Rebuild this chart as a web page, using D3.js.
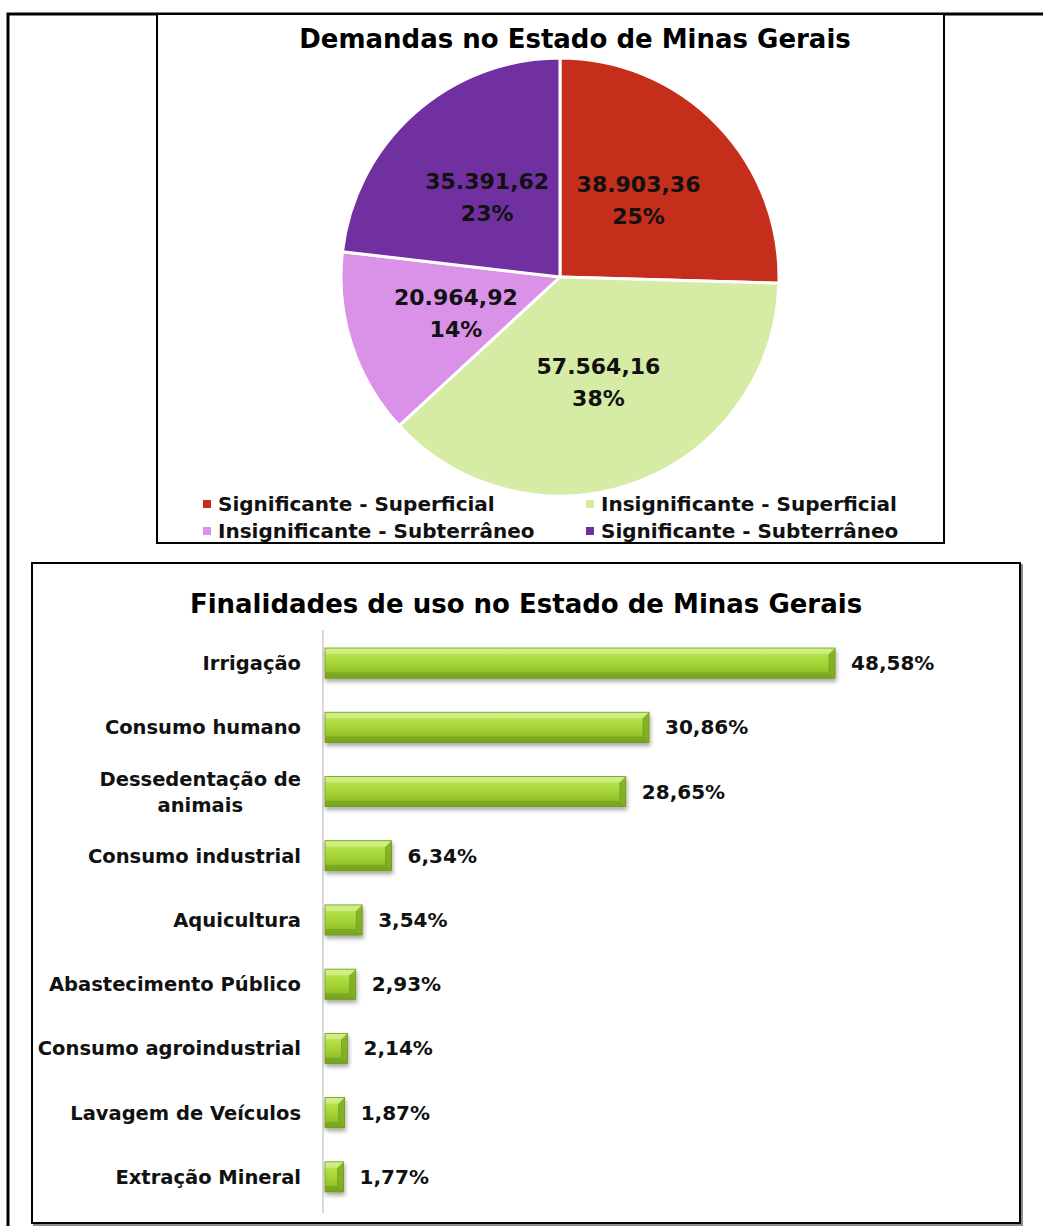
<!DOCTYPE html>
<html><head><meta charset="utf-8">
<script src="https://cdn.jsdelivr.net/npm/d3@7"></script>
<style>body{margin:0;background:#fff} svg{display:block}</style>
</head><body>
<script>
// ---- Data ----
const pieCategories = ["Significante - Superficial","Insignificante - Superficial","Insignificante - Subterrâneo","Significante - Subterrâneo"];
const pieValues = [38903.36, 57564.16, 20964.92, 35391.62];
const pieValueLabels = ["38.903,36","57.564,16","20.964,92","35.391,62"];
const piePercentLabels = ["25%","38%","14%","23%"];
const pieColors = ["#C42E1B","#D6EBA4","#DA92E8","#7030A0"];
const legendOrder = [0,1,2,3];

const barCategories = ["Irrigação","Consumo humano","Dessedentação de\nanimais","Consumo industrial","Aquicultura","Abastecimento Público","Consumo agroindustrial","Lavagem de Veículos","Extração Mineral"];
const barValues = [48.58,30.86,28.65,6.34,3.54,2.93,2.14,1.87,1.77];
const barValueLabels = ["48,58%","30,86%","28,65%","6,34%","3,54%","2,93%","2,14%","1,87%","1,77%"];

const FONT = "'DejaVu Sans', Verdana, sans-serif";
const W = 1043, H = 1226;
const svg = d3.select("body").append("svg").attr("width", W).attr("height", H)
  .style("font-family", FONT).style("font-weight", "bold");

const defs = svg.append("defs");
const grad = defs.append("linearGradient").attr("id","barGrad").attr("x1",0).attr("y1",0).attr("x2",0).attr("y2",1);
[["0%","#C9EC78"],["18%","#B7E24F"],["55%","#A2D233"],["100%","#86B523"]].forEach(([o,c])=>grad.append("stop").attr("offset",o).attr("stop-color",c));
const shadow = defs.append("filter").attr("id","shadow").attr("x","-10%").attr("y","-30%").attr("width","130%").attr("height","180%");
shadow.append("feDropShadow").attr("dx",1).attr("dy",3).attr("stdDeviation",2).attr("flood-color","#000").attr("flood-opacity",0.35);
const boxShadow = defs.append("filter").attr("id","boxShadow").attr("x","-5%").attr("y","-5%").attr("width","110%").attr("height","110%");
boxShadow.append("feDropShadow").attr("dx",2).attr("dy",2).attr("stdDeviation",0.6).attr("flood-color","#000").attr("flood-opacity",0.45);

// ---- Frames ----
svg.append("path").attr("d", `M8,1226 L8,14 L1043,14`).attr("fill","none").attr("stroke","#000").attr("stroke-width",3);
svg.append("rect").attr("x",157).attr("y",14).attr("width",787).attr("height",529)
  .attr("fill","#fff").attr("stroke","#000").attr("stroke-width",2);
svg.append("rect").attr("x",32).attr("y",563).attr("width",988).attr("height",660)
  .attr("fill","#fff").attr("stroke","#000").attr("stroke-width",2).attr("filter","url(#boxShadow)");

// ---- Pie chart ----
svg.append("text").attr("x",575).attr("y",48).attr("text-anchor","middle")
  .attr("font-size",26).attr("fill","#000").text("Demandas no Estado de Minas Gerais");

const cx = 560, cy = 277, R = 219;
const pie = d3.pie().sort(null).value(d => d)(pieValues);
const arc = d3.arc().innerRadius(0).outerRadius(R);
const labelArc = d3.arc().innerRadius(R*0.5).outerRadius(R*0.5);
const pg = svg.append("g").attr("transform",`translate(${cx},${cy})`);
pg.selectAll("path.slice").data(pie).join("path").attr("class","slice")
  .attr("d", arc).attr("fill",(d,i)=>pieColors[i]).attr("stroke","#fff").attr("stroke-width",3).attr("stroke-linejoin","round");
const lab = pg.selectAll("g.lab").data(pie).join("g").attr("class","lab")
  .attr("transform", d => { const c = labelArc.centroid(d); return `translate(${c[0]},${c[1]})`; });
lab.append("text").attr("text-anchor","middle").attr("y",(d,i)=> i===0 ? -9 : -6).attr("font-size",22).attr("fill","#111")
  .text((d,i)=>pieValueLabels[i]);
lab.append("text").attr("text-anchor","middle").attr("y",(d,i)=> i===0 ? 23 : 26).attr("font-size",22).attr("fill","#111")
  .text((d,i)=>piePercentLabels[i]);

// legend
const legPos = [[207,504],[590,504],[207,531],[590,531]];
const lg = svg.append("g");
legendOrder.forEach((k, j) => {
  const [lx, ly] = legPos[j];
  lg.append("rect").attr("x",lx-4).attr("y",ly-4).attr("width",8).attr("height",8).attr("fill",pieColors[k]);
  lg.append("text").attr("x",lx+11).attr("y",ly+7).attr("font-size",20).attr("fill","#111").text(pieCategories[k]);
});

// ---- Bar chart ----
svg.append("text").attr("x",526).attr("y",613).attr("text-anchor","middle")
  .attr("font-size",26).attr("fill","#000").text("Finalidades de uso no Estado de Minas Gerais");

const x = d3.scaleLinear().domain([0,50]).range([325,850]);
const y = d3.scaleBand().domain(barCategories).range([631,1209]).paddingInner(0.53).paddingOuter(0.265);

svg.append("line").attr("x1",323).attr("x2",323).attr("y1",630).attr("y2",1213).attr("stroke","#D9D9D9").attr("stroke-width",2);

const bg = svg.append("g");
const bars = bg.selectAll("g.bar").data(barValues).join("g").attr("class","bar");
const bv = 6;
bars.each(function(v,i){
  const g = d3.select(this);
  const x0 = x(0), x1 = x(v), y0 = y(barCategories[i]), h = y.bandwidth(), y1 = y0 + h;
  const grp = g.append("g").attr("filter","url(#shadow)");
  grp.append("rect").attr("x",x0).attr("y",y0).attr("width",x1-x0).attr("height",h).attr("fill","url(#barGrad)");
  const b = Math.min(bv, (x1-x0)/2);
  grp.append("path").attr("d",`M${x0},${y0} L${x1},${y0} L${x1-b},${y0+bv} L${x0},${y0+bv} Z`).attr("fill","#D3F08D").attr("opacity",0.75);
  grp.append("path").attr("d",`M${x0},${y1} L${x1},${y1} L${x1-b},${y1-bv} L${x0},${y1-bv} Z`).attr("fill","#6E9A1C").attr("opacity",0.6);
  grp.append("path").attr("d",`M${x1},${y0} L${x1},${y1} L${x1-b},${y1-bv} L${x1-b},${y0+bv} Z`).attr("fill","#7FAA22").attr("opacity",0.85);
  grp.append("line").attr("x1",x1-b).attr("x2",x1-b).attr("y1",y0+bv).attr("y2",y1-bv).attr("stroke","#5E8A12").attr("stroke-width",0.8).attr("opacity",0.6);
  grp.append("rect").attr("x",x0).attr("y",y0).attr("width",x1-x0).attr("height",h).attr("fill","none").attr("stroke","#6E9A1C").attr("stroke-width",0.8);
  g.append("text").attr("x",x1+16).attr("y",y0+h/2+7).attr("font-size",20).attr("fill","#111").text(barValueLabels[i]);
});

// category labels
const CAT_FS = 19.5;
barCategories.forEach((c,i) => {
  const lines = c.split("\n");
  const cyy = y(c) + y.bandwidth()/2;
  const t = svg.append("text").attr("font-size",CAT_FS).attr("fill","#111");
  if (lines.length === 1) {
    t.attr("x",301).attr("y",cyy+7).attr("text-anchor","end").text(c);
  } else {
    const tmp = svg.append("text").attr("font-size",CAT_FS).text(lines.reduce((a,b)=>a.length>b.length?a:b));
    const mw = tmp.node().getComputedTextLength(); tmp.remove();
    const mx = 301 - mw/2;
    t.attr("text-anchor","middle");
    lines.forEach((ln,k)=> t.append("tspan").attr("x",mx).attr("y",cyy - 13 + 7 + k*26).text(ln));
  }
});
</script>
</body></html>
